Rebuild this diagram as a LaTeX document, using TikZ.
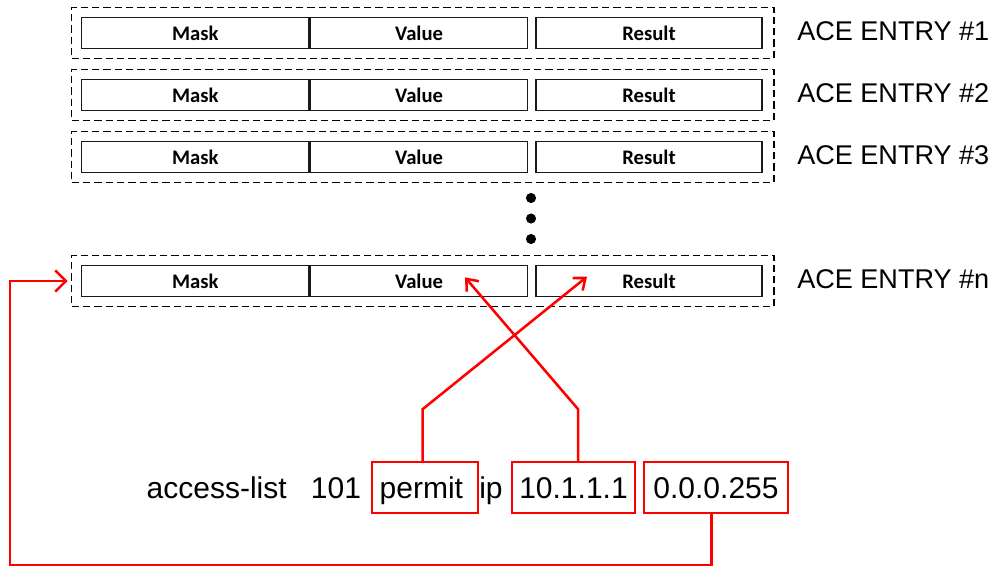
\documentclass[tikz,border=0pt]{standalone}
\usepackage{fontspec}
\setmainfont{Liberation Sans}
\newfontfamily\calibri{Carlito}
\usetikzlibrary{arrows.meta}
\begin{document}
\begin{tikzpicture}[x=0.75pt,y=-0.75pt,
  field/.style={draw=black!90,line width=1.2pt,minimum height=23pt,inner sep=0pt,font=\calibri\bfseries\fontsize{15.5}{18}\selectfont},
  entrybox/.style={draw,dash pattern=on 5.5pt off 3pt,line width=1.1pt,minimum width=526.7pt,minimum height=38.25pt},
  entrylabel/.style={anchor=west,inner sep=0pt,font=\fontsize{20.3}{24}\selectfont},
  cmd/.style={inner sep=0pt,text height=17pt,text depth=1.2pt,minimum height=38.25pt,font=\fontsize{22.5}{27}\selectfont},
  param/.style={cmd,draw=red,line width=1.3pt},
  link/.style={red,line width=1.9pt,-{Straight Barb[length=7.5pt,width=12pt]}}]
\useasboundingbox (0,0) rectangle (998,579);
% the ACE table
\foreach \y/\k in {33/1,95/2,157/3,281/n}{
  \node[entrybox] (entry\k) at (422.85,\y) {};
  \node[field,minimum width=170.5pt] (mask\k) at (195.35,\y) {Mask};
  \node[field,minimum width=162.75pt,anchor=west] (value\k) at (mask\k.east) {Value};
  \node[field,minimum width=169.5pt] (result\k) at (649,\y) {Result};
  \node[entrylabel] (label\k) at (797,\y-2) {ACE ENTRY \#\k};
}
\foreach \d in {198,218.5,239} \fill (531,\d) circle (3.8pt);
% the command line
\node[cmd] (acl) at (216.7,487.5) {access-list};
\node[cmd] (num) at (336,487.5) {101};
\node[param,minimum width=79.5pt] (permit) at (424.7,487.5) {permit\kern5pt};
\node[cmd] (proto) at (491,487.5) {ip};
\node[param,minimum width=92.7pt] (addr) at (573.5,487.5) {10.1.1.1};
\node[param,minimum width=108pt] (wild) at (716,487.5) {0.0.0.255};
% where each part goes
\coordinate (vtip) at (465,277.3);
\coordinate (rtip) at (587,276.7);
\draw[link] ([xshift=-1.5pt]permit.north) -- ++(0,-52) -- (rtip);
\draw[link] ([xshift=3.4pt]addr.north) -- ++(0,-52) -- (vtip);
\draw[link,-{Straight Barb[length=8pt,width=16pt]}] ([xshift=-3.2pt]wild.south) |- (10,565) |- ([xshift=-2.5pt]entryn.west);
\end{tikzpicture}
\end{document}
